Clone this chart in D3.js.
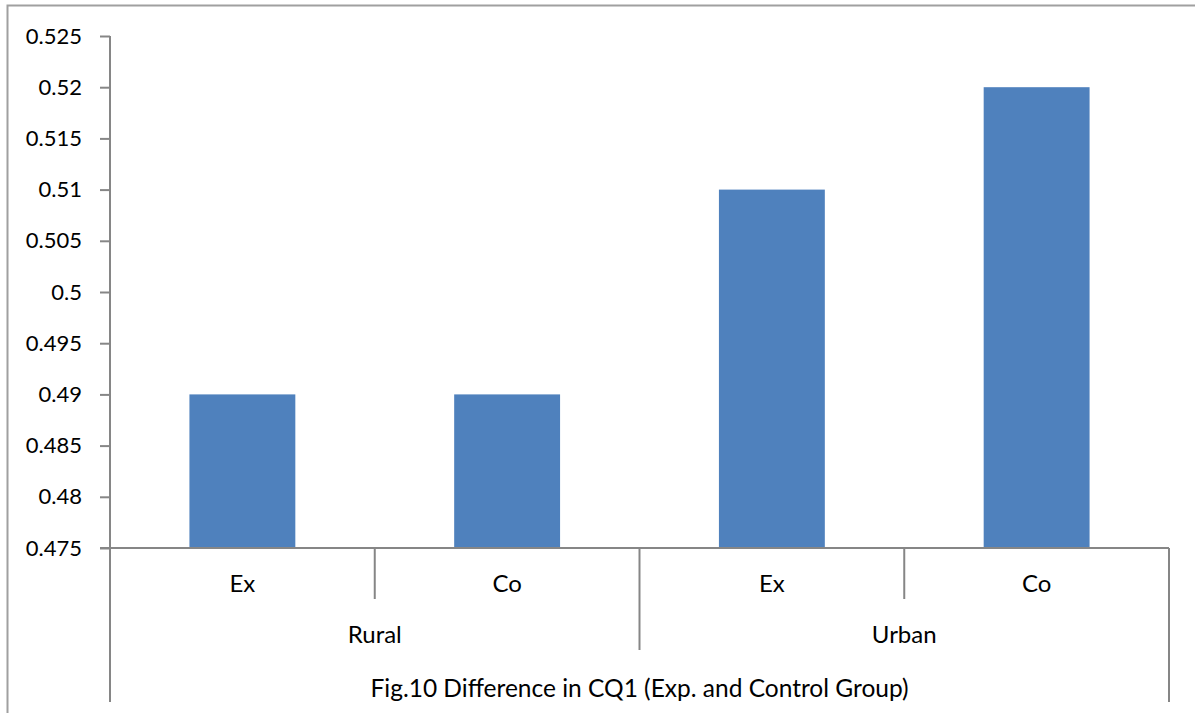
<!DOCTYPE html>
<html><head><meta charset="utf-8">
<script src="https://cdn.jsdelivr.net/npm/d3@7"></script>
<style>body{margin:0;background:#fff}svg{display:block}</style>
</head><body>
<svg id="c" width="1195" height="713"></svg>
<script>
const categories = ["Ex","Co","Ex","Co"];
const groups = ["Rural","Urban"];
const values = [0.49,0.49,0.51,0.52];
const yTicks = [0.475,0.48,0.485,0.49,0.495,0.5,0.505,0.51,0.515,0.52,0.525];
const title = "Fig.10 Difference in CQ1 (Exp. and Control Group)";

const svg = d3.select("#c");
const font = "Lato, 'Open Sans', sans-serif";
const axisColor = "#868686";
const L=110, R=1169, T=36, B=548;
const fs = 24;

// outer border
svg.append("path").attr("d","M7.5,713 V5.5 H1195").attr("fill","none").attr("stroke","#a0a0a0").attr("stroke-width",2);

const x = d3.scaleBand().domain(d3.range(categories.length)).range([L,R]).paddingInner(0.6).paddingOuter(0.3);
const y = d3.scaleLinear().domain([0.475,0.525]).range([B,T]);

svg.selectAll("rect.bar").data(values).join("rect").attr("class","bar")
  .attr("x",(d,i)=>x(i)).attr("width",x.bandwidth())
  .attr("y",d=>y(d)).attr("height",d=>B-y(d)).attr("fill","#4F81BD");

// y axis
const ya = svg.append("g").attr("transform",`translate(${L},0)`)
  .call(d3.axisLeft(y).tickValues(yTicks).tickSize(10).tickFormat(d=>String(+d.toFixed(3))));
ya.select(".domain").remove();
ya.selectAll(".tick line").attr("stroke",axisColor).attr("stroke-width",2);
ya.selectAll(".tick text").attr("font-family",font).attr("font-size",22).attr("fill","#000").attr("x",-28);
svg.append("line").attr("x1",L).attr("x2",L).attr("y1",T).attr("y2",702).attr("stroke",axisColor).attr("stroke-width",2);

// x axis baseline
svg.append("line").attr("x1",L-10).attr("x2",R).attr("y1",B).attr("y2",B).attr("stroke",axisColor).attr("stroke-width",2);
svg.append("line").attr("x1",R).attr("x2",R).attr("y1",B).attr("y2",702).attr("stroke",axisColor).attr("stroke-width",2);

const step = x.step();
// category separators
const catSep = [1,3].map(i=>L+step*i);
svg.selectAll("line.cs").data(catSep).join("line").attr("class","cs")
  .attr("x1",d=>d).attr("x2",d=>d).attr("y1",B).attr("y2",599).attr("stroke",axisColor).attr("stroke-width",2);
svg.append("line").attr("x1",L+step*2).attr("x2",L+step*2).attr("y1",B).attr("y2",650).attr("stroke",axisColor).attr("stroke-width",2);

svg.selectAll("text.cat").data(categories).join("text").attr("class","cat")
  .attr("x",(d,i)=>x(i)+x.bandwidth()/2).attr("y",592).attr("text-anchor","middle")
  .attr("font-family",font).attr("font-size",fs).text(d=>d);
svg.selectAll("text.grp").data(groups).join("text").attr("class","grp")
  .attr("x",(d,i)=>L+step*(2*i+1)).attr("y",643).attr("text-anchor","middle")
  .attr("font-family",font).attr("font-size",fs).text(d=>d);
svg.append("text").attr("x",(L+R)/2).attr("y",697).attr("text-anchor","middle")
  .attr("font-family",font).attr("font-size",24.5).text(title);
</script>
</body></html>
